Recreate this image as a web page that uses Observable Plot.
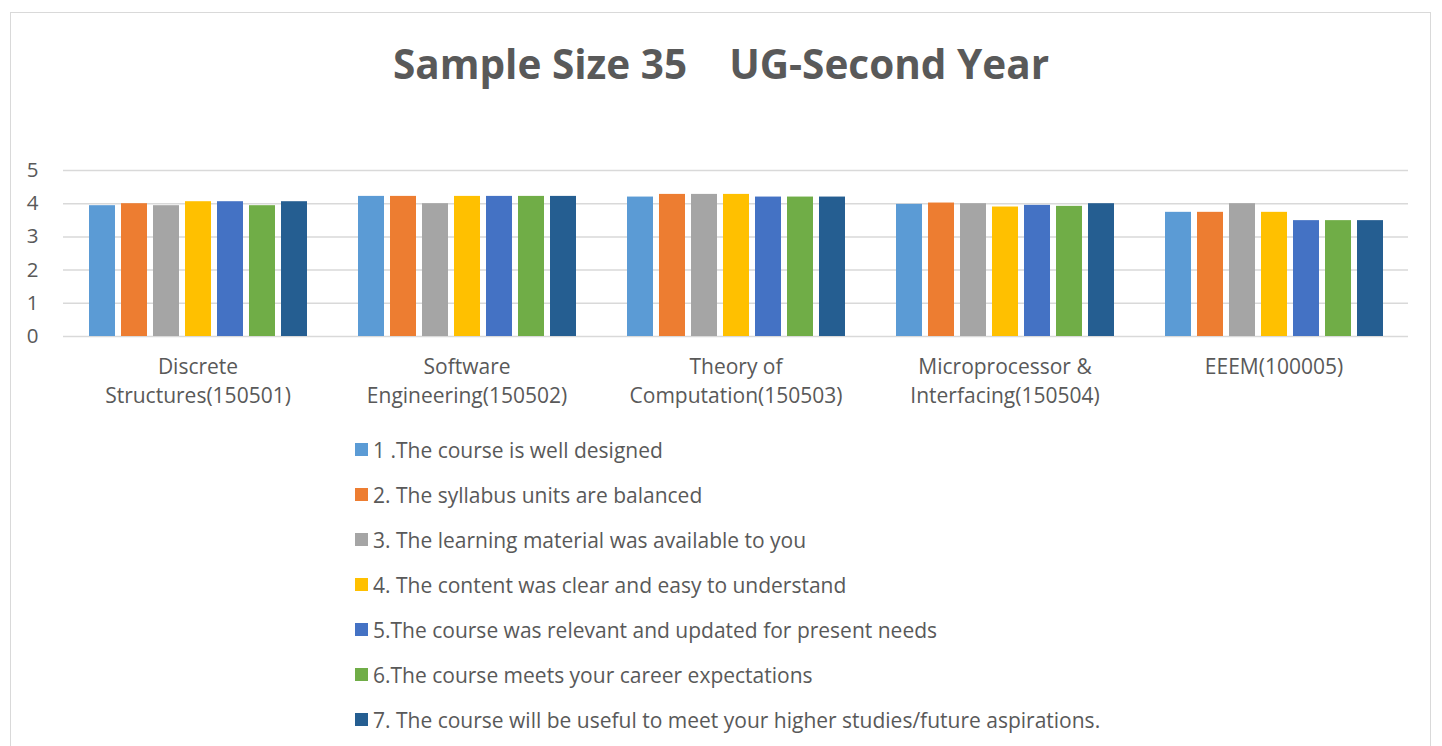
<!DOCTYPE html>
<html>
<head>
<meta charset="utf-8">
<script src="https://cdn.jsdelivr.net/npm/d3@7"></script>
<script src="https://cdn.jsdelivr.net/npm/@observablehq/plot@0.6"></script>
<style>
  body { margin: 0; background: #fff; font-family: "Open Sans", Lato, sans-serif; color: #595959; }
  #frame { position: absolute; left: 10px; top: 12px; width: 1421px; height: 760px; border: 1px solid #d9d9d9; box-sizing: border-box; }
  #title { position: absolute; left: 0; top: 37px; width: 1442px; text-align: center; font-size: 40.5px; font-weight: bold; white-space: pre; color: #595959; line-height: 54px; }
  #chart { position: absolute; left: 0; top: 150px; }
  #legend { position: absolute; left: 355px; top: 427px; }
  .item { height: 45px; display: flex; align-items: center; font-size: 21px; color: #595959; }
  .sw { width: 13px; height: 13px; margin-right: 5px; }
</style>
</head>
<body>
<div id="frame"></div>
<div id="title"></div>
<div id="chart"></div>
<div id="legend"></div>
<script>
const title = "Sample Size 35    UG-Second Year";
const categories = ["Discrete Structures(150501)", "Software Engineering(150502)", "Theory of Computation(150503)", "Microprocessor & Interfacing(150504)", "EEEM(100005)"];
const categoryLabels = ["Discrete\nStructures(150501)", "Software\nEngineering(150502)", "Theory of\nComputation(150503)", "Microprocessor &\nInterfacing(150504)", "EEEM(100005)"];
const questions = [
  "1 .The course is well designed",
  "2. The syllabus units are balanced",
  "3. The learning material was available to you",
  "4. The content was clear and easy to understand",
  "5.The course was relevant and updated for present needs",
  "6.The course meets your career expectations",
  "7. The course will be useful to meet your higher studies/future aspirations."
];
const colors = ["#5B9BD5", "#ED7D31", "#A5A5A5", "#FFC000", "#4472C4", "#70AD47", "#255E91"];
// values per category, one per question
const discreteStructures = [3.94, 4.0, 3.94, 4.06, 4.06, 3.94, 4.06];
const softwareEngineering = [4.22, 4.22, 4.0, 4.22, 4.22, 4.22, 4.22];
const theoryOfComputation = [4.2, 4.28, 4.28, 4.28, 4.2, 4.2, 4.2];
const microprocessor = [3.98, 4.02, 4.0, 3.9, 3.95, 3.92, 4.0];
const eeem = [3.74, 3.74, 4.0, 3.74, 3.49, 3.49, 3.49];
const yTicks = [0, 1, 2, 3, 4, 5];

const series = [discreteStructures, softwareEngineering, theoryOfComputation, microprocessor, eeem];
const data = [];
categories.forEach((c, i) => questions.forEach((q, j) => data.push({cat: c, q, v: series[i][j]})));
const labelData = categories.map((c, i) => ({cat: c, label: categoryLabels[i]}));

document.getElementById("title").textContent = title;

const chart = Plot.plot({
  width: 1442,
  height: 270,
  marginLeft: 62,
  marginRight: 34,
  marginTop: 20,
  marginBottom: 84,
  style: {fontFamily: "'Open Sans', Lato, sans-serif", color: "#595959", background: "transparent"},
  fx: {domain: categories, padding: 0, axis: null},
  x: {domain: questions, paddingInner: 0.2, paddingOuter: 0.8, axis: null},
  y: {domain: [0, 5], axis: null},
  color: {domain: questions, range: colors},
  marks: [
    Plot.ruleY(yTicks, {stroke: "#d9d9d9", strokeWidth: 1.5}),
    Plot.barY(data, {fx: "cat", x: "q", y: "v", fill: "q"}),
    Plot.text(labelData, {fx: "cat", text: "label", frameAnchor: "bottom", lineAnchor: "top", dy: 17, fontSize: 21, lineHeight: 1.38, fill: "#595959"}),
    Plot.axisY({ticks: yTicks, tickFormat: d => String(d), label: null, tickSize: 0, tickPadding: 25, fontSize: 20.5, anchor: "left", fill: "#595959"})
  ]
});
document.getElementById("chart").appendChild(chart);

const legend = document.getElementById("legend");
questions.forEach((q, i) => {
  const row = document.createElement("div");
  row.className = "item";
  const sw = document.createElement("span");
  sw.className = "sw";
  sw.style.background = colors[i];
  const t = document.createElement("span");
  t.textContent = q;
  row.appendChild(sw);
  row.appendChild(t);
  legend.appendChild(row);
});
</script>
</body>
</html>
